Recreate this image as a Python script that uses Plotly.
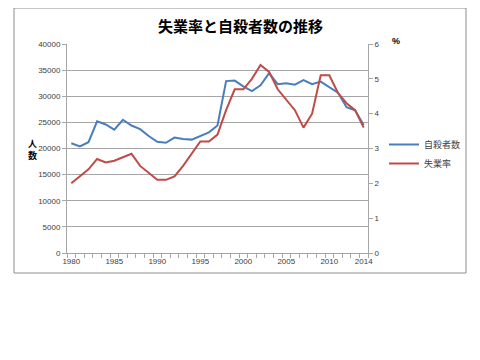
import plotly.graph_objects as go

years = list(range(1980, 2015))
suicides = [21000, 20400, 21200, 25200, 24600, 23600, 25500, 24400, 23700, 22400,
            21300, 21100, 22100, 21800, 21700, 22400, 23100, 24400, 32900, 33000,
            31900, 31000, 32100, 34400, 32300, 32500, 32200, 33100, 32300, 32800,
            31700, 30700, 27900, 27300, 24500]
unemployment = [2.0, 2.2, 2.4, 2.7, 2.6, 2.65, 2.75, 2.85, 2.5, 2.3,
                2.1, 2.1, 2.2, 2.5, 2.85, 3.2, 3.2, 3.4, 4.1, 4.7,
                4.7, 5.0, 5.4, 5.2, 4.7, 4.4, 4.1, 3.6, 4.0, 5.1,
                5.1, 4.6, 4.3, 4.1, 3.6]
xtick_vals = [1980, 1985, 1990, 1995, 2000, 2005, 2010, 2014]

font_family = "Liberation Sans, Noto Sans CJK JP, sans-serif"
grid_c = "#a6a6a6"
text_c = "#404040"

fig = go.Figure()
fig.add_trace(go.Scatter(x=years, y=suicides, mode="lines", name="自殺者数",
                         line=dict(color="#4a7ebb", width=2)))
fig.add_trace(go.Scatter(x=years, y=unemployment, mode="lines", name="失業率",
                         yaxis="y2", line=dict(color="#be4b48", width=2)))

OFF = 8  # default page body margin
L, R, T, B = 67 - OFF, 368 - OFF, 44 - OFF, 253 - OFF
W, H = R - L, B - T
def px(x): return (x - OFF - L) / W
def py(y): return (B - (y - OFF)) / H

fig.update_layout(
    width=480, height=360,
    margin=dict(l=L, r=480 - R, t=T, b=360 - B, autoexpand=False),
    paper_bgcolor="white", plot_bgcolor="white",
    font=dict(family=font_family, size=8, color=text_c),
    showlegend=True,
    legend=dict(x=px(384), y=py(154), xanchor="left", yanchor="middle",
                font=dict(size=9, color="#404040"), bgcolor="rgba(0,0,0,0)",
                tracegroupgap=0, itemwidth=30),
    xaxis=dict(range=[1979.5, 2014.5], tickvals=xtick_vals,
               ticktext=[str(v) for v in xtick_vals],
               showgrid=False, showline=True, linecolor=grid_c, linewidth=1,
               ticks="", zeroline=False,
               minor=dict(ticks="outside", tick0=1979.5, dtick=1, ticklen=4,
                          tickcolor=grid_c, showgrid=False),
               tickfont=dict(size=8, color=text_c)),
    yaxis=dict(range=[0, 40000], dtick=5000, tickformat="d", showgrid=True,
               gridcolor=grid_c, gridwidth=1, showline=True, linecolor=grid_c,
               ticks="outside", ticklen=4, tickcolor=grid_c, zeroline=False,
               tickfont=dict(size=8, color=text_c)),
    yaxis2=dict(range=[0, 6], dtick=1, overlaying="y", side="right",
                showgrid=False, showline=True, linecolor=grid_c, ticks="outside",
                ticklen=4, tickcolor=grid_c, zeroline=False,
                tickfont=dict(size=8, color=text_c)),
    shapes=[dict(type="rect", xref="paper", yref="paper",
                 x0=px(14), x1=px(466), y0=py(273), y1=py(8),
                 line=dict(color="#8c8c8c", width=1), layer="below")],
    annotations=[
        dict(text="<b>失業率と自殺者数の推移</b>", xref="paper", yref="paper",
             x=px(240), y=py(25), showarrow=False, xanchor="center", yanchor="middle",
             font=dict(size=15, color="#000000", family="Noto Sans CJK JP")),
        dict(text="<b>人<br>数</b>", xref="paper", yref="paper",
             x=px(32), y=py(149), showarrow=False, xanchor="center", yanchor="middle",
             font=dict(size=9, color="#000000", family="Noto Sans CJK JP")),
        dict(text="<b>%</b>", xref="paper", yref="paper",
             x=px(396), y=py(41), showarrow=False, xanchor="center", yanchor="middle",
             font=dict(size=9, color="#000000")),
    ],
)

fig.write_html("out.html")
